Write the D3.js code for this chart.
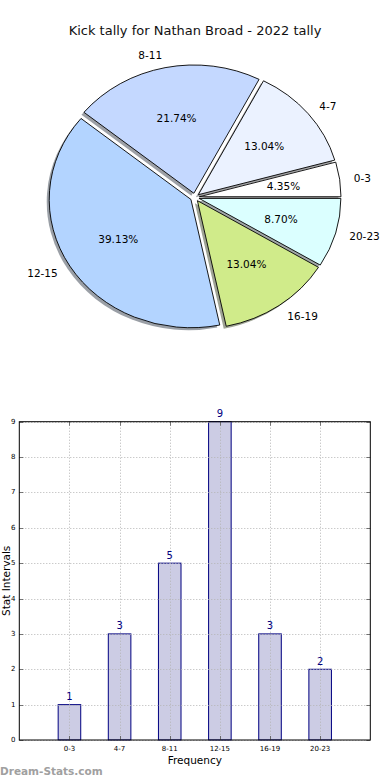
<!DOCTYPE html>
<html>
<head>
<meta charset="utf-8">
<script src="https://cdn.jsdelivr.net/npm/d3@7"></script>
<style>
  html, body { margin: 0; padding: 0; background: #fff; }
  svg { display: block; }
  text { font-family: "DejaVu Sans", sans-serif; }
</style>
</head>
<body>
<svg id="chart" width="390" height="780"></svg>
<script>
// ---- data ----
const categories = ["0-3", "4-7", "8-11", "12-15", "16-19", "20-23"];
const counts = [1, 3, 5, 9, 3, 2];
const pieColors = ["#ffffff", "#ebf2ff", "#c4d8ff", "#b3d4ff", "#d0eb8a", "#dbffff"];
const yTicks = [0, 1, 2, 3, 4, 5, 6, 7, 8, 9];
const titleText = "Kick tally for Nathan Broad - 2022 tally";
const xLabel = "Frequency";
const yLabel = "Stat Intervals";
const watermark = "Dream-Stats.com";

const svg = d3.select("#chart");

// ---- title ----
svg.append("text").attr("x", 195).attr("y", 34.5).attr("text-anchor", "middle")
  .attr("font-size", 13).attr("fill", "#111").text(titleText);

// ---- pie ----
const cx = 194.8, cy = 197.3, rx = 141.7, ry = 128.3;
const explode = 0.032;
const sy = ry / rx;
const total = d3.sum(counts);
const pie = d3.pie().sort(null).startAngle(Math.PI / 2).endAngle(Math.PI / 2 - 2 * Math.PI);
const arcs = pie(counts);
const arc = d3.arc().innerRadius(0).outerRadius(rx);

const pg = svg.append("g").attr("transform", `translate(${cx},${cy}) scale(1,${sy})`);

function off(d) {
  const th = Math.PI / 2 - (d.startAngle + d.endAngle) / 2;
  return [explode * rx * Math.cos(th), -explode * rx * Math.sin(th), th];
}

// shadows
pg.selectAll("path.shadow").data(arcs).enter().append("path")
  .attr("class", "shadow")
  .attr("d", arc)
  .attr("transform", d => { const o = off(d); return `translate(${o[0] - 2.5},${o[1] + 2.5 / sy})`; })
  .attr("fill", (d, i) => { const c = d3.rgb(pieColors[i]); return d3.rgb(c.r * 0.3, c.g * 0.3, c.b * 0.3); })
  .attr("fill-opacity", 0.5)
  .attr("stroke", "none");

// wedges
pg.selectAll("path.wedge").data(arcs).enter().append("path")
  .attr("class", "wedge")
  .attr("d", arc)
  .attr("transform", d => { const o = off(d); return `translate(${o[0]},${o[1]})`; })
  .attr("fill", (d, i) => pieColors[i])
  .attr("stroke", "#000")
  .attr("stroke-width", 0.9)
  .attr("vector-effect", "non-scaling-stroke")
  .attr("stroke-linejoin", "round");

// labels
arcs.forEach((d, i) => {
  const o = off(d);
  const th = o[2];
  const ex = cx + o[0], ey = cy + o[1] * sy;
  const lx = ex + 1.1 * rx * Math.cos(th);
  const ly = ey - 1.1 * ry * Math.sin(th);
  svg.append("text").attr("x", lx).attr("y", ly)
    .attr("text-anchor", Math.cos(th) > 0 ? "start" : "end")
    .attr("dominant-baseline", "central")
    .attr("font-size", 10.5).attr("fill", "#000").text(categories[i]);
  const px = ex + 0.6 * rx * Math.cos(th);
  const py = ey - 0.6 * ry * Math.sin(th);
  svg.append("text").attr("x", px).attr("y", py)
    .attr("text-anchor", "middle").attr("dominant-baseline", "central")
    .attr("font-size", 10.5).attr("fill", "#000")
    .text((counts[i] / total * 100).toFixed(2) + "%");
});

// ---- bar chart ----
const L = 19.3, R = 370.3, T = 421.7, B = 740;
const x = d3.scaleLinear().domain([-1, 6]).range([L, R]);
const y = d3.scaleLinear().domain([0, 9]).range([B, T]);
const bw = 0.45;

const bg = svg.append("g");
bg.selectAll("rect.bar").data(counts).enter().append("rect")
  .attr("class", "bar")
  .attr("x", (d, i) => x(i - bw / 2))
  .attr("width", x(bw) - x(0))
  .attr("y", d => y(d))
  .attr("height", d => y(0) - y(d))
  .attr("fill", "#ccccE4")
  .attr("stroke", "#000080")
  .attr("stroke-width", 1);

// grid (on top)
const grid = svg.append("g").attr("stroke", "#b4b4b4").attr("stroke-width", 1)
  .attr("stroke-dasharray", "1,2");
yTicks.forEach(t => {
  grid.append("line").attr("x1", L).attr("x2", R).attr("y1", Math.round(y(t)) + 0.5).attr("y2", Math.round(y(t)) + 0.5);
});
categories.forEach((c, i) => {
  grid.append("line").attr("y1", T).attr("y2", B).attr("x1", Math.round(x(i)) + 0.5).attr("x2", Math.round(x(i)) + 0.5);
});

// ticks
const ticks = svg.append("g").attr("stroke", "#555").attr("stroke-width", 0.8);
yTicks.forEach(t => {
  const yy = Math.round(y(t)) + 0.5;
  ticks.append("line").attr("x1", L).attr("x2", L + 4).attr("y1", yy).attr("y2", yy);
  ticks.append("line").attr("x1", R - 4).attr("x2", R).attr("y1", yy).attr("y2", yy);
});
categories.forEach((c, i) => {
  const xx = Math.round(x(i)) + 0.5;
  ticks.append("line").attr("y1", B).attr("y2", B - 4).attr("x1", xx).attr("x2", xx);
  ticks.append("line").attr("y1", T).attr("y2", T + 4).attr("x1", xx).attr("x2", xx);
});

// frame
svg.append("rect").attr("x", L).attr("y", T).attr("width", R - L).attr("height", B - T)
  .attr("fill", "none").attr("stroke", "#000").attr("stroke-width", 1);

// tick labels
yTicks.forEach(t => {
  svg.append("text").attr("x", 15.5).attr("y", y(t)).attr("text-anchor", "end")
    .attr("dominant-baseline", "central").attr("font-size", 7).attr("fill", "#000").text(t);
});
categories.forEach((c, i) => {
  svg.append("text").attr("x", x(i)).attr("y", 751).attr("text-anchor", "middle")
    .attr("font-size", 7).attr("fill", "#000").text(c);
});

// value labels
counts.forEach((v, i) => {
  svg.append("text").attr("x", x(i)).attr("y", y(v) - 4.5).attr("text-anchor", "middle")
    .attr("font-size", 10).attr("fill", "#000080").text(v);
});

// axis labels
svg.append("text").attr("x", x(2.5)).attr("y", 764).attr("text-anchor", "middle")
  .attr("font-size", 10.5).attr("fill", "#000").text(xLabel);
svg.append("text").attr("transform", `translate(9.5,${(T + B) / 2}) rotate(-90)`)
  .attr("text-anchor", "middle").attr("font-size", 10.5).attr("fill", "#000").text(yLabel);

// watermark
svg.append("text").attr("x", 0).attr("y", 775).attr("font-size", 10.5).attr("font-weight", "bold")
  .attr("fill", "#a0a0a0").text(watermark);
</script>
</body>
</html>
